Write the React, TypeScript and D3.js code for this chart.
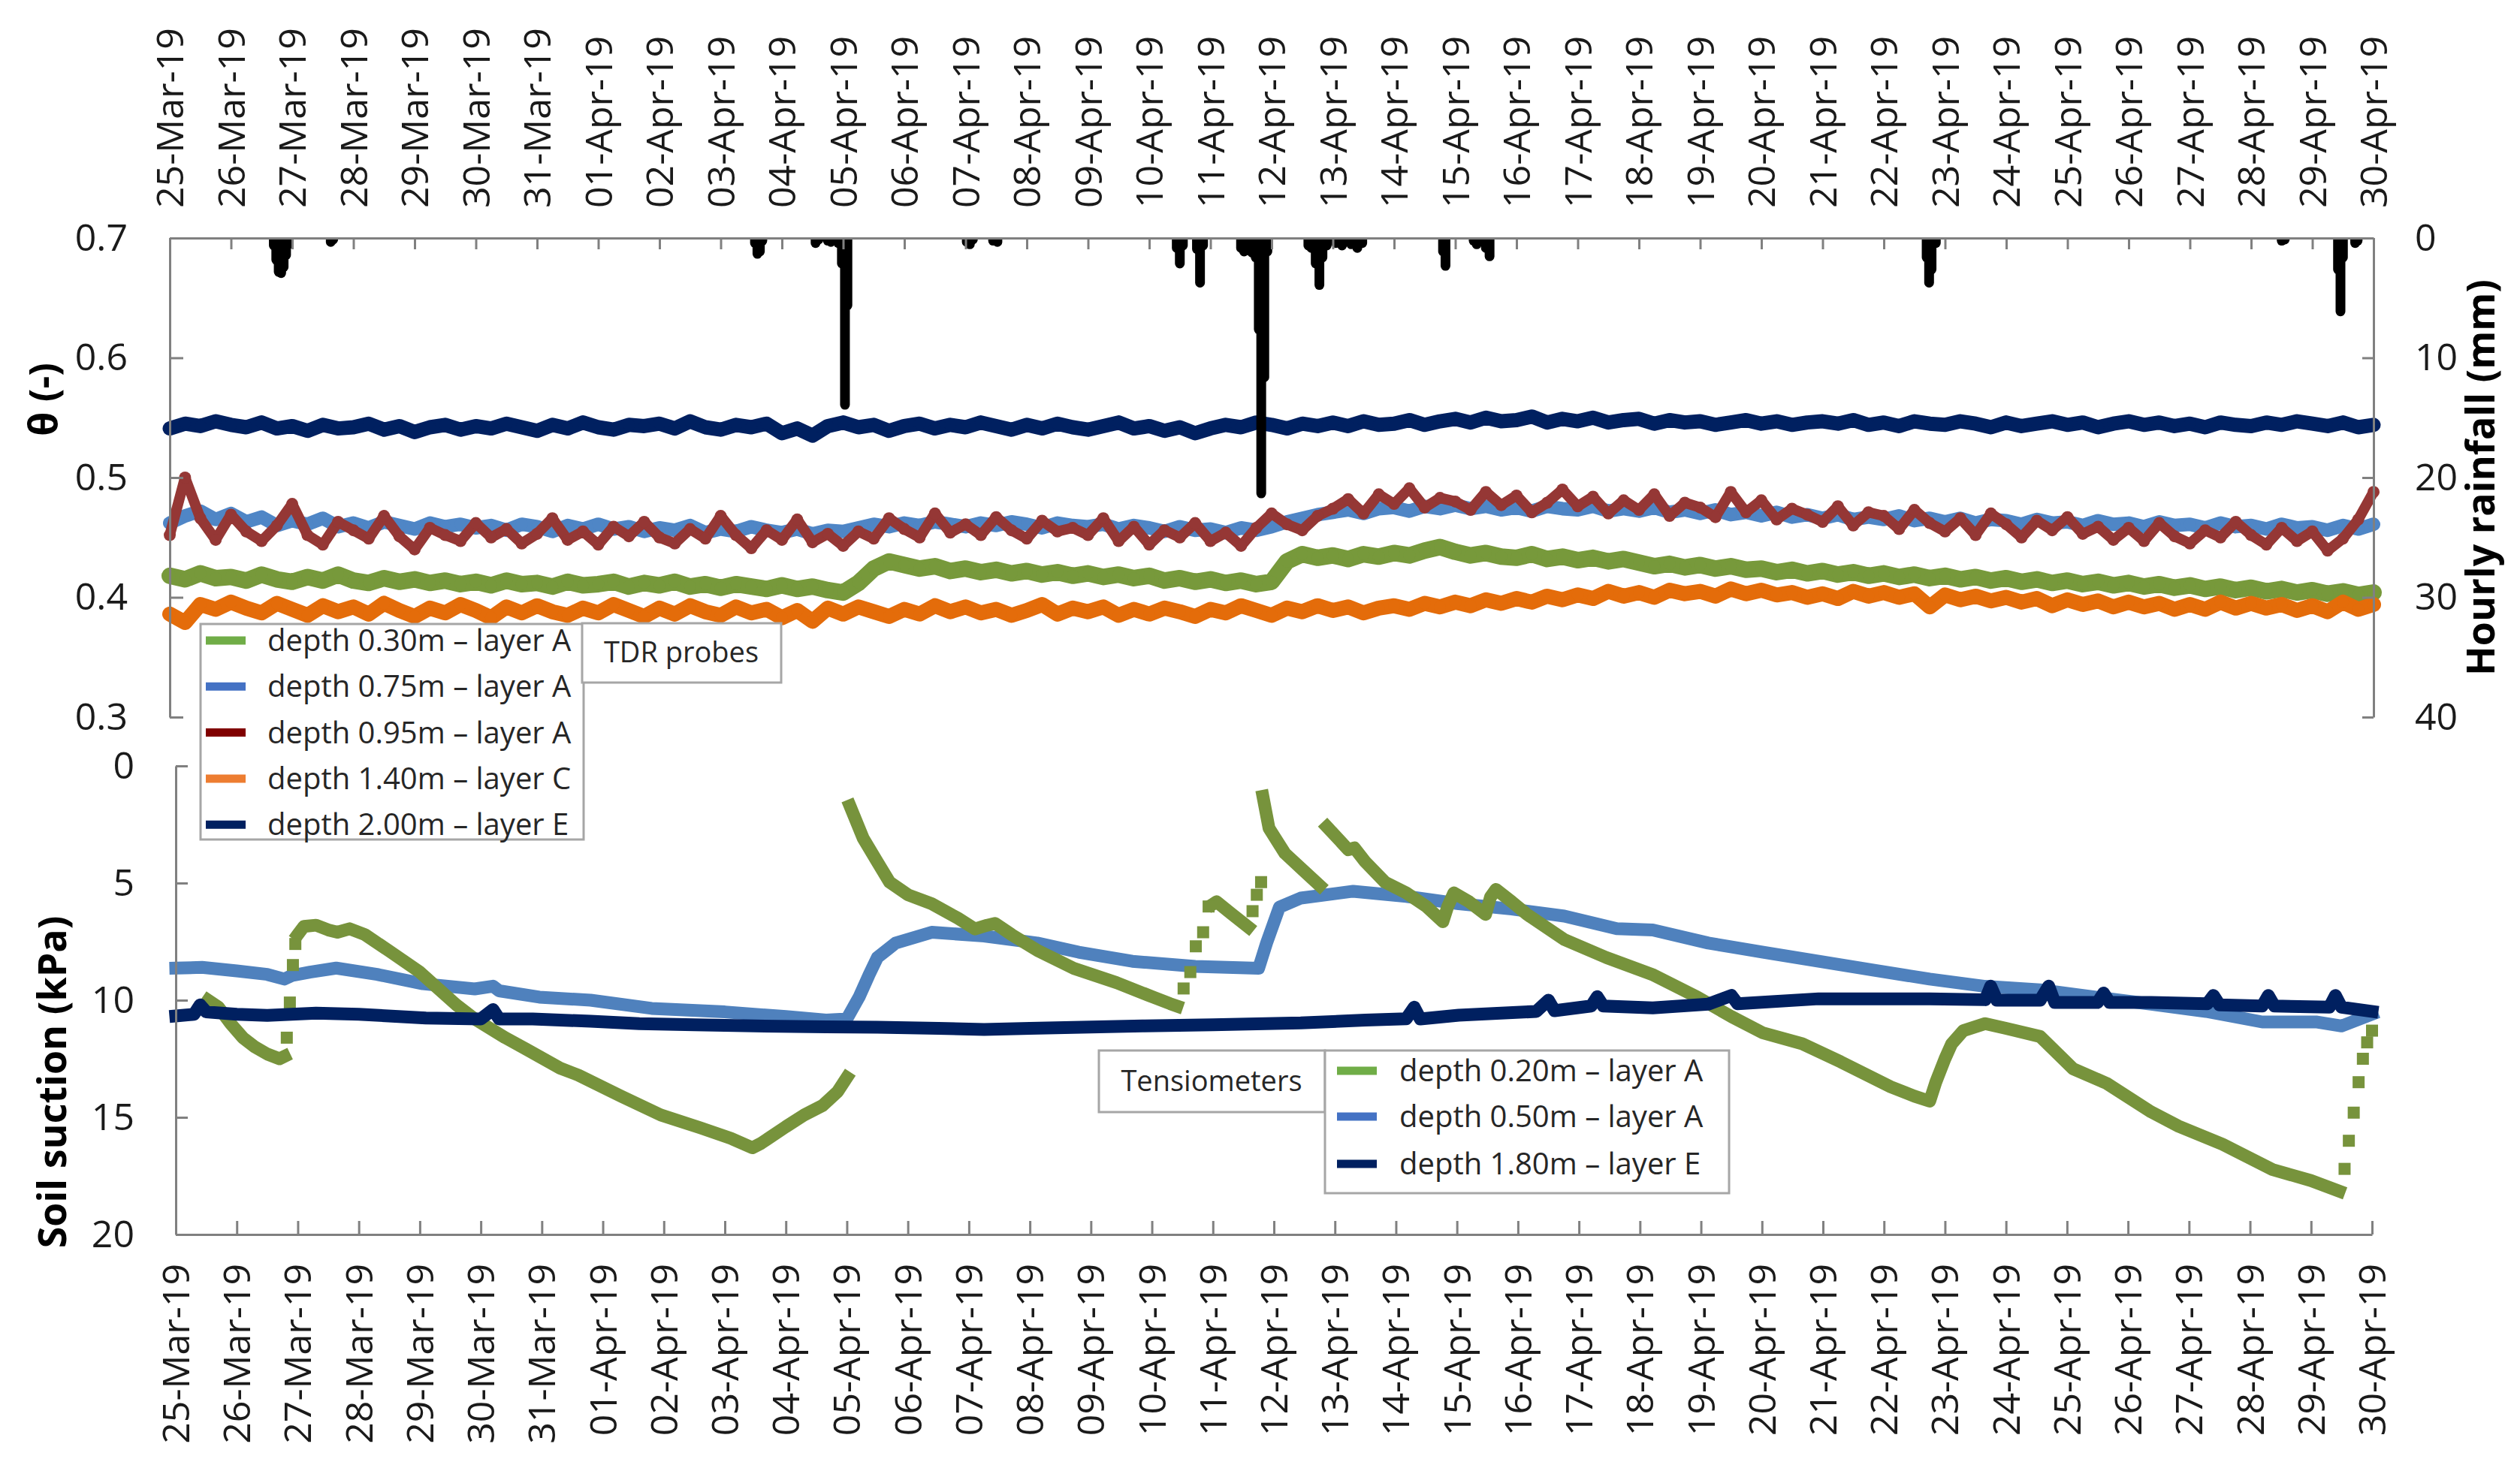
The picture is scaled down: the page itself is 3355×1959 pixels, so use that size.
import { useEffect, useRef } from "react";
import * as d3 from "d3";

const WIDTH = 3355;
const HEIGHT = 1959;
const FONT = "'Open Sans', 'Noto Sans', sans-serif";
const T0 = Date.UTC(2019, 2, 25);
const T1 = Date.UTC(2019, 3, 30);
const DAY_MS = 864e5;
const TDR_STEP = 0.25; // days between plotted TDR readings (from 25-Mar-19 00:00)

// TDR volumetric water content θ (-), one value every 6 h
const tdr030 = [
  0.418, 0.415, 0.420, 0.416, 0.417, 0.414, 0.419, 0.415, 0.413, 0.417, 0.414, 0.419,
  0.414, 0.412, 0.416, 0.413, 0.415, 0.412, 0.414, 0.411, 0.413, 0.410, 0.414, 0.411,
  0.412, 0.409, 0.413, 0.410, 0.411, 0.413, 0.409, 0.412, 0.410, 0.413, 0.409, 0.411,
  0.408, 0.411, 0.409, 0.407, 0.410, 0.407, 0.409, 0.406, 0.404, 0.412, 0.424, 0.430,
  0.427, 0.424, 0.426, 0.422, 0.424, 0.421, 0.423, 0.420, 0.422, 0.419, 0.421, 0.418,
  0.420, 0.417, 0.419, 0.416, 0.418, 0.414, 0.416, 0.413, 0.415, 0.412, 0.414, 0.411,
  0.413, 0.430, 0.436, 0.433, 0.435, 0.432, 0.436, 0.434, 0.437, 0.435, 0.439, 0.442,
  0.438, 0.435, 0.437, 0.434, 0.433, 0.436, 0.432, 0.434, 0.431, 0.433, 0.430, 0.432,
  0.429, 0.426, 0.428, 0.425, 0.427, 0.424, 0.426, 0.423, 0.424, 0.421, 0.423, 0.420,
  0.422, 0.419, 0.421, 0.418, 0.420, 0.417, 0.419, 0.416, 0.418, 0.415, 0.417, 0.414,
  0.416, 0.413, 0.415, 0.412, 0.414, 0.411, 0.413, 0.410, 0.412, 0.409, 0.411, 0.408,
  0.410, 0.407, 0.409, 0.406, 0.408, 0.405, 0.407, 0.404, 0.406, 0.403, 0.405, 0.402,
  0.404,
];
const tdr075 = [
  0.462, 0.468, 0.472, 0.465, 0.470, 0.463, 0.467, 0.460, 0.464, 0.461, 0.466, 0.459,
  0.462, 0.458, 0.463, 0.460, 0.457, 0.462, 0.459, 0.461, 0.458, 0.460, 0.456, 0.461,
  0.459, 0.455, 0.460, 0.457, 0.461, 0.457, 0.459, 0.455, 0.458, 0.456, 0.460, 0.454,
  0.457, 0.455, 0.459, 0.456, 0.454, 0.457, 0.453, 0.456, 0.455, 0.458, 0.461, 0.459,
  0.462, 0.460, 0.463, 0.461, 0.459, 0.462, 0.460, 0.463, 0.461, 0.458, 0.462, 0.460,
  0.459, 0.461, 0.457, 0.460, 0.458, 0.455, 0.459, 0.456, 0.457, 0.454, 0.458, 0.456,
  0.459, 0.463, 0.466, 0.469, 0.471, 0.473, 0.470, 0.474, 0.475, 0.472, 0.476, 0.474,
  0.477, 0.474, 0.476, 0.473, 0.475, 0.472, 0.476, 0.474, 0.473, 0.476, 0.472, 0.474,
  0.472, 0.475, 0.471, 0.473, 0.470, 0.473, 0.469, 0.471, 0.468, 0.471, 0.467, 0.469,
  0.466, 0.469, 0.465, 0.467, 0.465, 0.468, 0.464, 0.466, 0.463, 0.466, 0.462, 0.465,
  0.464, 0.461, 0.465, 0.462, 0.463, 0.460, 0.464, 0.461, 0.462, 0.459, 0.463, 0.460,
  0.461, 0.458, 0.462, 0.459, 0.460, 0.457, 0.461, 0.458, 0.459, 0.456, 0.460, 0.457,
  0.461,
];
const tdr095 = [
  0.452, 0.500, 0.466, 0.448, 0.469, 0.455, 0.447, 0.460, 0.478, 0.452, 0.444, 0.463,
  0.456, 0.449, 0.468, 0.451, 0.440, 0.458, 0.452, 0.447, 0.462, 0.450, 0.457, 0.445,
  0.453, 0.466, 0.448, 0.455, 0.444, 0.459, 0.451, 0.463, 0.450, 0.445, 0.457, 0.449,
  0.468, 0.452, 0.441, 0.456, 0.448, 0.465, 0.446, 0.453, 0.443, 0.455, 0.449, 0.466,
  0.457, 0.450, 0.470, 0.454, 0.461, 0.452, 0.467, 0.456, 0.449, 0.464, 0.455, 0.458,
  0.452, 0.466, 0.447, 0.459, 0.444, 0.456, 0.450, 0.462, 0.447, 0.454, 0.443, 0.458,
  0.470, 0.461, 0.456, 0.468, 0.474, 0.482, 0.470, 0.486, 0.478, 0.491, 0.475, 0.483,
  0.480, 0.473, 0.488, 0.477, 0.485, 0.471, 0.479, 0.490, 0.476, 0.484, 0.470, 0.481,
  0.473, 0.486, 0.468, 0.479, 0.475, 0.467, 0.488, 0.471, 0.481, 0.465, 0.474, 0.469,
  0.463, 0.476, 0.460, 0.471, 0.468, 0.457, 0.473, 0.462, 0.455, 0.466, 0.452, 0.470,
  0.461, 0.450, 0.464, 0.456, 0.467, 0.453, 0.459, 0.448, 0.458, 0.447, 0.462, 0.451,
  0.445, 0.456, 0.450, 0.463, 0.452, 0.444, 0.458, 0.447, 0.455, 0.439, 0.449, 0.465,
  0.488,
];
const tdr140 = [
  0.386, 0.379, 0.394, 0.390, 0.396, 0.391, 0.387, 0.395, 0.390, 0.385, 0.393, 0.388,
  0.392, 0.386, 0.395, 0.389, 0.384, 0.391, 0.387, 0.394, 0.389, 0.383, 0.392, 0.387,
  0.393, 0.388, 0.385, 0.391, 0.387, 0.394, 0.389, 0.384, 0.391, 0.386, 0.393, 0.388,
  0.385, 0.392, 0.387, 0.390, 0.383, 0.389, 0.380, 0.391, 0.386, 0.392, 0.388, 0.384,
  0.390, 0.386, 0.393, 0.388, 0.392, 0.387, 0.390, 0.385, 0.389, 0.394, 0.386, 0.391,
  0.388, 0.392, 0.385, 0.390, 0.386, 0.391, 0.388, 0.384, 0.390, 0.387, 0.393, 0.389,
  0.385, 0.391, 0.388, 0.393, 0.389, 0.392, 0.387, 0.391, 0.393, 0.390, 0.395, 0.392,
  0.396, 0.393, 0.398, 0.395, 0.399, 0.396, 0.401, 0.398, 0.402, 0.399, 0.405, 0.401,
  0.404, 0.400, 0.406, 0.403, 0.405, 0.401, 0.407, 0.403, 0.406, 0.402, 0.404, 0.400,
  0.403, 0.399, 0.405, 0.401, 0.404, 0.400, 0.403, 0.392, 0.402, 0.398, 0.401, 0.397,
  0.400, 0.396, 0.399, 0.393, 0.398, 0.394, 0.397, 0.392, 0.396, 0.392, 0.395, 0.390,
  0.394, 0.390, 0.396, 0.391, 0.395, 0.391, 0.394, 0.389, 0.393, 0.388, 0.396, 0.390,
  0.394,
];
const tdr200 = [
  0.541, 0.545, 0.543, 0.547, 0.544, 0.542, 0.546, 0.541, 0.543, 0.539, 0.544, 0.541,
  0.542, 0.545, 0.540, 0.543, 0.538, 0.542, 0.544, 0.540, 0.543, 0.541, 0.545, 0.542,
  0.539, 0.544, 0.541, 0.546, 0.542, 0.540, 0.544, 0.543, 0.545, 0.541, 0.547, 0.542,
  0.540, 0.544, 0.542, 0.545, 0.537, 0.541, 0.535, 0.543, 0.546, 0.542, 0.544, 0.539,
  0.543, 0.545, 0.541, 0.544, 0.542, 0.546, 0.543, 0.540, 0.544, 0.541, 0.545, 0.542,
  0.540, 0.543, 0.546, 0.541, 0.543, 0.539, 0.542, 0.537, 0.541, 0.544, 0.542, 0.546,
  0.544, 0.541, 0.545, 0.543, 0.546, 0.543, 0.547, 0.544, 0.545, 0.548, 0.544, 0.547,
  0.549, 0.546, 0.550, 0.547, 0.548, 0.551, 0.546, 0.549, 0.547, 0.550, 0.546, 0.548,
  0.549, 0.545, 0.548, 0.546, 0.547, 0.544, 0.546, 0.548, 0.545, 0.547, 0.544, 0.546,
  0.547, 0.545, 0.548, 0.544, 0.546, 0.543, 0.547, 0.545, 0.544, 0.547, 0.545, 0.542,
  0.546, 0.543, 0.545, 0.547, 0.544, 0.546, 0.542, 0.545, 0.547, 0.544, 0.546, 0.543,
  0.545, 0.542, 0.546, 0.544, 0.543, 0.546, 0.544, 0.547, 0.545, 0.543, 0.546, 0.542,
  0.544,
];

// Hourly rainfall (mm): day offset from 25-Mar-19 00:00, amount
const rainDay = [
  1.70, 1.74, 1.78, 1.82, 1.86, 1.90, 1.94, 2.63, 2.67, 9.56, 9.60, 9.64, 9.68,
  10.55, 10.60, 10.75, 10.80, 10.85, 10.92, 10.98, 11.03, 11.07,
  13.02, 13.07, 13.12, 13.45, 13.52, 16.45, 16.50, 16.55, 16.78, 16.83, 16.88,
  17.50, 17.55, 17.62, 17.68, 17.74, 17.79, 17.83, 17.88, 17.93,
  18.60, 18.65, 18.72, 18.78, 18.83, 18.90, 19.05, 19.15, 19.30, 19.40, 19.48,
  20.80, 20.84, 21.30, 21.35, 21.50, 21.56, 28.70, 28.74, 28.78, 28.85,
  34.50, 34.55, 35.42, 35.46, 35.50, 35.70, 35.74,
];
const rainMm = [
  1.0, 2.2, 3.2, 3.3, 2.8, 1.8, 0.9, 0.7, 0.5, 0.8, 1.7, 1.5, 0.6,
  0.8, 0.5, 0.6, 0.7, 0.5, 0.8, 2.5, 14.3, 6.0,
  0.7, 0.9, 0.5, 0.6, 0.7, 1.2, 2.5, 1.0, 1.3, 4.1, 1.0,
  1.2, 1.5, 1.4, 1.6, 2.0, 8.0, 21.7, 12.0, 1.5,
  1.0, 1.2, 2.5, 4.3, 2.0, 1.0, 0.8, 1.0, 0.9, 1.2, 0.8,
  1.5, 2.7, 0.6, 0.9, 1.2, 1.9, 2.0, 4.1, 3.0, 0.8,
  0.6, 0.5, 3.0, 6.5, 2.0, 0.8, 0.6,
];

// Tensiometer soil suction (kPa): [day offset, kPa]; gaps split the segments
const tensio020Segments: [number, number][][] = [
  [[0.53, 10.0], [0.7, 10.3], [0.9, 11.0], [1.1, 11.6], [1.3, 12.0], [1.5, 12.3], [1.7, 12.5], [1.78, 12.4]],
  [[2.0, 7.2], [2.1, 6.85], [2.3, 6.8], [2.5, 7.0], [2.65, 7.1], [2.85, 6.95], [3.1, 7.2], [3.5, 7.9], [4.0, 8.8],
   [4.6, 10.2], [4.9, 10.8], [5.4, 11.6], [5.75, 12.1], [6.3, 12.9], [6.6, 13.2], [7.3, 14.1], [7.95, 14.9],
   [8.6, 15.45], [9.1, 15.9], [9.45, 16.3], [9.6, 16.1], [10.0, 15.4], [10.3, 14.9], [10.6, 14.5], [10.85, 13.9], [11.0, 13.3]],
  [[11.05, 1.7], [11.27, 3.1], [11.5, 4.1], [11.7, 4.96], [12.0, 5.5], [12.39, 5.88], [12.82, 6.5], [13.1, 6.96],
   [13.3, 6.8], [13.43, 6.72], [13.7, 7.2], [14.12, 7.87], [14.72, 8.64], [15.42, 9.25], [16.02, 9.87], [16.3, 10.15], [16.41, 10.25]],
  [[17.0, 5.9], [17.06, 5.8], [17.3, 6.3], [17.58, 6.88]],
  [[17.82, 1.3], [17.92, 2.66], [18.18, 3.73], [18.5, 4.5], [18.75, 5.1]],
  [[18.87, 2.6], [19.05, 3.1], [19.22, 3.58], [19.32, 3.5], [19.5, 4.1], [19.82, 4.96], [20.17, 5.42], [20.5, 6.0],
   [20.77, 6.65], [20.85, 6.0], [20.95, 5.42], [21.2, 5.8], [21.47, 6.34], [21.55, 5.6], [21.64, 5.27], [21.9, 5.8],
   [22.15, 6.34], [22.76, 7.41], [23.45, 8.18], [24.2, 8.9], [24.94, 9.87], [25.5, 10.7], [26.02, 11.4], [26.66, 11.86],
   [27.29, 12.63], [28.11, 13.7], [28.5, 14.1], [28.75, 14.31], [28.85, 13.5], [29.0, 12.5], [29.11, 11.86], [29.3, 11.3],
   [29.66, 11.0], [30.0, 11.2], [30.56, 11.55], [31.1, 12.93], [31.65, 13.55], [32.38, 14.77], [32.83, 15.38],
   [33.55, 16.15], [34.37, 17.23], [35.0, 17.7], [35.46, 18.15]],
];
// isolated readings during fast changes (drawn as single squares)
const tensio020Sparse: [number, number][] = [
  [1.82, 11.6], [1.87, 10.1], [1.92, 8.5], [1.96, 7.6],
  [16.52, 9.5], [16.63, 8.8], [16.72, 7.7], [16.84, 7.1], [16.93, 6.0],
  [17.65, 6.2], [17.72, 5.5], [17.79, 4.96],
  [35.55, 17.2], [35.62, 16.0], [35.7, 14.8], [35.78, 13.5], [35.85, 12.5], [35.92, 11.8], [36.0, 11.3],
];
const tensio050: [number, number][] = [
  [0, 8.63], [0.43, 8.6], [1.0, 8.75], [1.5, 8.9], [1.78, 9.1], [1.9, 8.95], [2.2, 8.8], [2.63, 8.63], [3.3, 8.9],
  [4.05, 9.3], [4.9, 9.52], [5.2, 9.4], [5.3, 9.6], [5.96, 9.87], [6.8, 10.0], [7.8, 10.35], [9.0, 10.5], [10.0, 10.7],
  [10.66, 10.85], [11.0, 10.8], [11.2, 9.87], [11.36, 8.94], [11.5, 8.18], [11.8, 7.56], [12.39, 7.1], [13.25, 7.26],
  [14.12, 7.56], [14.8, 7.95], [15.68, 8.34], [16.71, 8.56], [17.75, 8.64], [17.88, 7.56], [18.09, 6.03], [18.44, 5.64],
  [19.3, 5.35], [20.17, 5.57], [21.03, 5.88], [21.9, 6.11], [22.76, 6.41], [23.62, 6.95], [24.21, 7.0], [25.12, 7.56],
  [26.02, 7.95], [26.93, 8.34], [27.84, 8.72], [28.75, 9.1], [29.66, 9.41], [30.56, 9.56], [31.47, 9.87], [32.38, 10.17],
  [33.28, 10.48], [34.2, 10.93], [35.1, 10.93], [35.5, 11.1], [36.0, 10.6],
];
const tensio050Sparse: [number, number][] = [[0.52, 0.4], [0.52, 1.0]];
const tensio180: [number, number][] = [
  [0, 10.67], [0.3, 10.6], [0.4, 10.2], [0.5, 10.5], [1.0, 10.6], [1.5, 10.65], [2.3, 10.55], [3.0, 10.6], [4.1, 10.76],
  [5.0, 10.8], [5.2, 10.4], [5.3, 10.8], [5.85, 10.8], [6.8, 10.9], [7.6, 11.0], [8.5, 11.05], [9.5, 11.1], [10.66, 11.14],
  [11.5, 11.15], [12.5, 11.2], [13.25, 11.25], [14.0, 11.2], [15.85, 11.1], [17.0, 11.05], [18.44, 10.97], [19.5, 10.85],
  [20.17, 10.79], [20.3, 10.3], [20.4, 10.8], [21.03, 10.64], [22.3, 10.48], [22.5, 10.0], [22.6, 10.45], [23.2, 10.25],
  [23.3, 9.85], [23.4, 10.25], [24.21, 10.33], [25.12, 10.17], [25.5, 9.8], [25.6, 10.15], [26.93, 9.94], [28.75, 9.94],
  [29.66, 9.98], [29.75, 9.4], [29.85, 10.0], [30.56, 10.0], [30.7, 9.4], [30.8, 10.1], [31.5, 10.1], [31.6, 9.7],
  [31.7, 10.1], [32.38, 10.1], [33.3, 10.15], [33.4, 9.8], [33.5, 10.2], [34.2, 10.25], [34.3, 9.8], [34.4, 10.25],
  [35.3, 10.3], [35.4, 9.8], [35.5, 10.3], [36.0, 10.48],
];

const tdrLabels = [
  "depth 0.30m – layer A",
  "depth 0.75m – layer A",
  "depth 0.95m – layer A",
  "depth 1.40m – layer C",
  "depth 2.00m – layer E",
];
const tdrSwatch = ["#70ad47", "#4472c4", "#800000", "#ed7d31", "#002060"];
const tensioLabels = ["depth 0.20m – layer A", "depth 0.50m – layer A", "depth 1.80m – layer E"];
const tensioSwatch = ["#70ad47", "#4472c4", "#002060"];

const dayToDate = (d: number) => new Date(T0 + d * DAY_MS);

export default function App() {
  const svgRef = useRef<SVGSVGElement>(null);

  useEffect(() => {
    if (!svgRef.current) return;
    const svg = d3.select(svgRef.current);
    svg.selectAll("*").remove();

    const xTop = d3.scaleUtc().domain([new Date(T0), new Date(T1)]).range([226, 3160]);
    const xBot = d3.scaleUtc().domain([new Date(T0), new Date(T1)]).range([234, 3158]);
    const yTheta = d3.scaleLinear().domain([0.3, 0.7]).range([955, 317]);
    const yRain = d3.scaleLinear().domain([0, 40]).range([317, 955]);
    const ySuc = d3.scaleLinear().domain([0, 20]).range([1020, 1644]);

    svg.append("rect").attr("width", WIDTH).attr("height", HEIGHT).attr("fill", "#fff");

    svg.append("defs").append("clipPath").attr("id", "clip-top")
      .append("rect").attr("x", 226).attr("y", 317).attr("width", 2934).attr("height", 638);

    // TDR series: a thick band through the readings with a dot on each one
    const tdrSeries = [
      { values: tdr075, color: "#4f86c6", band: 18 },
      { values: tdr095, color: "#953735", band: 14 },
      { values: tdr030, color: "#77993b", band: 22 },
      { values: tdr140, color: "#e46c0a", band: 20 },
      { values: tdr200, color: "#002060", band: 19 },
    ];
    const top = svg.append("g");
    tdrSeries.forEach((s) => {
      const pts = s.values.map((v, i) => [dayToDate(i * TDR_STEP), v] as [Date, number]);
      top.append("path")
        .datum(pts)
        .attr("fill", "none")
        .attr("stroke", s.color)
        .attr("stroke-width", s.band)
        .attr("stroke-linejoin", "round")
        .attr("stroke-linecap", "round")
        .attr("d", d3.line<[Date, number]>().x((d) => xTop(d[0])).y((d) => yTheta(d[1])));
      top.append("g")
        .selectAll("circle")
        .data(pts)
        .join("circle")
        .attr("cx", (d) => xTop(d[0]))
        .attr("cy", (d) => yTheta(d[1]))
        .attr("r", 8)
        .attr("fill", s.color);
    });

    // Hourly rainfall hanging from the top axis
    svg.append("g")
      .attr("clip-path", "url(#clip-top)")
      .selectAll("line")
      .data(rainDay)
      .join("line")
      .attr("x1", (d) => xTop(dayToDate(d)))
      .attr("x2", (d) => xTop(dayToDate(d)))
      .attr("y1", yRain(0) - 10)
      .attr("y2", (_, i) => Math.max(yRain(0), yRain(rainMm[i]) - 6))
      .attr("stroke", "#000")
      .attr("stroke-width", 13)
      .attr("stroke-linecap", "round");

    // Tensiometers
    const sucLine = d3.line<[number, number]>()
      .x((d) => xBot(dayToDate(d[0])))
      .y((d) => ySuc(d[1]));
    const bot = svg.append("g");
    const drawTensio = (segs: [number, number][][], sparse: [number, number][], color: string) => {
      segs.forEach((seg) => {
        bot.append("path")
          .datum(seg)
          .attr("fill", "none")
          .attr("stroke", color)
          .attr("stroke-width", 17)
          .attr("stroke-linejoin", "round")
          .attr("stroke-linecap", "square")
          .attr("d", sucLine);
      });
      bot.append("g")
        .selectAll("rect")
        .data(sparse)
        .join("rect")
        .attr("x", (d) => xBot(dayToDate(d[0])) - 8)
        .attr("y", (d) => ySuc(d[1]) - 8)
        .attr("width", 16)
        .attr("height", 16)
        .attr("fill", color);
    };
    drawTensio([tensio050], tensio050Sparse, "#4f81bd");
    drawTensio(tensio020Segments, tensio020Sparse, "#77933c");
    drawTensio([tensio180], [], "#002060");

    // Axes
    const styleAxis = (g: d3.Selection<SVGGElement, unknown, null, undefined>) => {
      g.attr("font-family", FONT).attr("font-size", 50);
      g.select(".domain").attr("stroke", "#808080").attr("stroke-width", 3);
      g.selectAll(".tick line").attr("stroke", "#808080").attr("stroke-width", 3);
      g.selectAll(".tick text").attr("fill", "#1a1a1a");
    };
    const dateFmt = d3.utcFormat("%d-%b-%y") as (d: Date | d3.NumberValue) => string;

    svg.append("g")
      .attr("transform", "translate(0,317)")
      .call(d3.axisTop(xTop).ticks(d3.utcDay.every(1)!).tickFormat(dateFmt).tickSize(-15).tickSizeOuter(0))
      .call(styleAxis)
      .call((g) => g.selectAll(".tick text")
        .attr("x", null).attr("y", null).attr("dy", "0.35em")
        .attr("text-anchor", "start")
        .attr("transform", "translate(0,-40) rotate(-90)"));

    svg.append("g")
      .attr("transform", "translate(0,1644)")
      .call(d3.axisBottom(xBot).ticks(d3.utcDay.every(1)!).tickFormat(dateFmt).tickSize(-18).tickSizeOuter(0))
      .call(styleAxis)
      .call((g) => g.selectAll(".tick text")
        .attr("x", null).attr("y", null).attr("dy", "0.35em")
        .attr("text-anchor", "end")
        .attr("transform", "translate(0,39) rotate(-90)"));

    svg.append("g")
      .attr("transform", "translate(226,0)")
      .call(d3.axisLeft(yTheta).tickValues([0.3, 0.4, 0.5, 0.6, 0.7]).tickFormat(d3.format(".1f"))
        .tickSize(-18).tickSizeOuter(0).tickPadding(56))
      .call(styleAxis);

    svg.append("g")
      .attr("transform", "translate(3160,0)")
      .call(d3.axisRight(yRain).tickValues([0, 10, 20, 30, 40]).tickSize(-15).tickSizeOuter(0).tickPadding(55))
      .call(styleAxis);

    svg.append("g")
      .attr("transform", "translate(234,0)")
      .call(d3.axisLeft(ySuc).tickValues([0, 5, 10, 15, 20]).tickSize(-16).tickSizeOuter(0).tickPadding(55))
      .call(styleAxis);

    // Axis titles
    const titles: [string, number, number][] = [
      ["θ (-)", 58, 532],
      ["Soil suction (kPa)", 70, 1441],
      ["Hourly rainfall (mm)", 3303, 636],
    ];
    titles.forEach(([txt, x, y]) => {
      svg.append("text")
        .attr("transform", `translate(${x},${y}) rotate(-90)`)
        .attr("text-anchor", "middle")
        .attr("dy", "0.35em")
        .attr("font-family", FONT)
        .attr("font-weight", 700)
        .attr("font-size", 52)
        .attr("fill", "#000")
        .text(txt);
    });

    // Legends
    const box = (x: number, y: number, w: number, h: number) =>
      svg.append("rect").attr("x", x).attr("y", y).attr("width", w).attr("height", h)
        .attr("fill", "#fff").attr("stroke", "#a6a6a6").attr("stroke-width", 3);
    const label = (txt: string, x: number, y: number, anchor = "start", size = 40) =>
      svg.append("text").attr("x", x).attr("y", y).attr("dy", "0.35em")
        .attr("text-anchor", anchor).attr("font-family", FONT).attr("font-size", size)
        .attr("fill", "#262626").text(txt);

    box(267, 831, 510, 287);
    tdrLabels.forEach((txt, i) => {
      const y = 853 + i * 61.3;
      svg.append("line").attr("x1", 274).attr("x2", 327).attr("y1", y).attr("y2", y)
        .attr("stroke", tdrSwatch[i]).attr("stroke-width", 11);
      label(txt, 356, y);
    });
    box(775, 830, 265, 79);
    label("TDR probes", 907, 869, "middle", 38);

    box(1463, 1399, 301, 82);
    label("Tensiometers", 1613, 1440, "middle", 38);
    box(1764, 1399, 538, 190);
    tensioLabels.forEach((txt, i) => {
      const y = [1426, 1487, 1550][i];
      svg.append("line").attr("x1", 1780).attr("x2", 1833).attr("y1", y).attr("y2", y)
        .attr("stroke", tensioSwatch[i]).attr("stroke-width", 11);
      label(txt, 1863, y);
    });
  }, []);

  return (
    <svg
      ref={svgRef}
      width={WIDTH}
      height={HEIGHT}
      style={{ position: "absolute", left: 0, top: 0, display: "block" }}
    />
  );
}
